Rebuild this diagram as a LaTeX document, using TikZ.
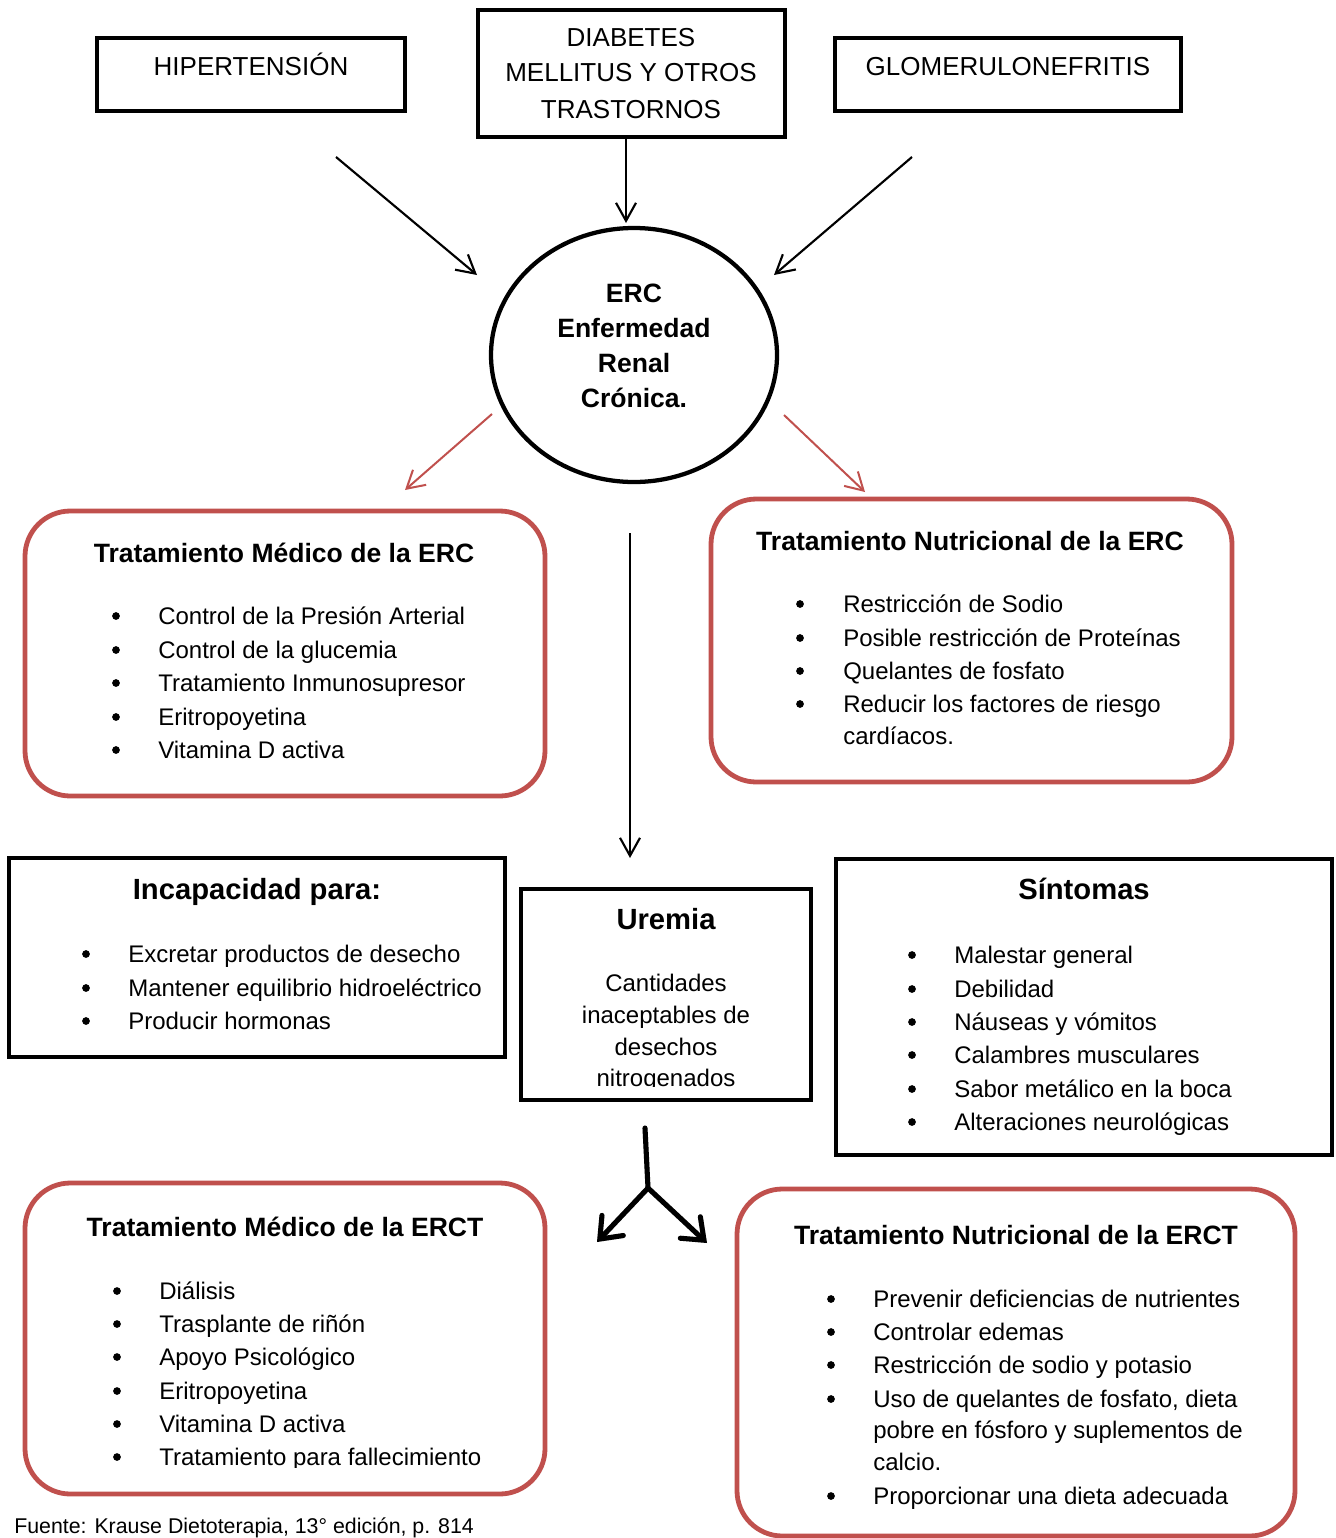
\documentclass[tikz,border=0pt]{standalone}
\usepackage{fontspec}
\setmainfont{Liberation Sans}
\usetikzlibrary{arrows.meta,fit,shapes.geometric}
\definecolor{ercred}{RGB}{192,80,77}
\begin{document}
\begin{tikzpicture}[x=0.75pt,y=-0.75pt,
  blackbox/.style={draw,line width=3pt,inner sep=0pt},
  redbox/.style={draw=ercred,line width=3.6pt,inner sep=0pt,rounded corners=34pt},
  body/.style={font=\fontsize{18}{24}\selectfont,anchor=base west,inner sep=0pt},
  bodyc/.style={font=\fontsize{18}{24}\selectfont,anchor=base,inner sep=0pt},
  bul/.style={circle,fill=black,inner sep=0pt,minimum size=5.8pt},
  head/.style={font=\fontsize{19.9}{24}\selectfont\bfseries,anchor=base,inner sep=0pt},
  bighead/.style={font=\fontsize{21.9}{26}\selectfont\bfseries,anchor=base,inner sep=0pt},
  cause/.style={font=\fontsize{19.5}{24}\selectfont,anchor=base,inner sep=0pt},
  arr/.style={line width=1.6pt,-{Straight Barb[length=13.5pt,width=15pt]}},
  redarr/.style={ercred,line width=1.5pt,-{Straight Barb[length=13pt,width=15pt]}},
  fork/.style={line width=3.8pt,line cap=round,line join=round},
  forkarr/.style={line width=3.8pt,line cap=round,-{Straight Barb[length=14pt,width=22pt,line cap=round]}}
]
\useasboundingbox (0,0) rectangle (1335,1538);
\clip (0,0) rectangle (1335,1538);

% ---- causes ----
\node[blackbox,fit={(97,38) (405,111)}] (hip) {};
\node[cause] (hipT) at (251,75) {HIPERTENSIÓN};
\node[blackbox,fit={(478,10) (785,137)}] (diab) {};
\node[cause] (diabT1) at (631,47) {DIABETES};
\node[cause] (diabT2) at (631,82) {MELLITUS Y OTROS};
\node[cause] (diabT3) at (631,118) {TRASTORNOS};
\node[blackbox,fit={(835,38) (1181,111)}] (glom) {};
\node[cause] (glomT) at (1008,75) {GLOMERULONEFRITIS};

% ---- centre ----
\node[ellipse,draw,line width=3.2pt,minimum width=214.5pt,minimum height=190.5pt,inner sep=0pt] (erc) at (634,355) {};
\node[head] (ercT1) at (634,302.5) {ERC};
\node[head] (ercT2) at (634,337.5) {Enfermedad};
\node[head] (ercT3) at (634,372.5) {Renal};
\node[head] (ercT4) at (634,407.5) {Crónica.};

\coordinate (c1s) at (336,157); \coordinate (c1e) at (477,275);
\coordinate (c2s) at (626,137); \coordinate (c2e) at (626,223);
\coordinate (c3s) at (912,157); \coordinate (c3e) at (774,275);
\draw[arr] (c1s) -- (c1e);
\draw[arr] (c2s) -- (c2e);
\draw[arr] (c3s) -- (c3e);

\coordinate (r1s) at (492,414); \coordinate (r1e) at (405,490);
\coordinate (r2s) at (784,415); \coordinate (r2e) at (865,492);
\draw[redarr] (r1s) -- (r1e);
\draw[redarr] (r2s) -- (r2e);

% ---- Tratamiento Medico ERC ----
\node[redbox,fit={(25,511) (545,796)}] (medERC) {};
\node[head] (medERCt) at (284,562.5) {Tratamiento Médico de la ERC};
\foreach \y/\t [count=\i] in {624/Control de la Presión Arterial,658/Control de la glucemia,691/Tratamiento Inmunosupresor,725/Eritropoyetina,758/Vitamina D activa}{
  \node[bul] (medERCb\i) at (116,\y-8) {};
  \node[body] (medERCi\i) at (158,\y) {\t};
}

% ---- Tratamiento Nutricional ERC ----
\node[redbox,fit={(711,499) (1232,782)}] (nutERC) {};
\node[head] (nutERCt) at (970,550.5) {Tratamiento Nutricional de la ERC};
\foreach \y/\t [count=\i] in {612/Restricción de Sodio,646/Posible restricción de Proteínas,679/Quelantes de fosfato,712/Reducir los factores de riesgo}{
  \node[bul] (nutERCb\i) at (800,\y-8) {};
  \node[body] (nutERCi\i) at (843,\y) {\t};
}
\node[body] (nutERCi5) at (843,744) {cardíacos.};

% ---- long arrow ----
\coordinate (vs) at (630,533); \coordinate (ve) at (630,858);
\draw[arr] (vs) -- (ve);

% ---- Incapacidad ----
\node[blackbox,fit={(9,858) (505,1057)}] (inc) {};
\node[bighead] (incT) at (257,899.5) {Incapacidad para:};
\foreach \y/\t [count=\i] in {962/Excretar productos de desecho,996/Mantener equilibrio hidroeléctrico,1029/Producir hormonas}{
  \node[bul] (incb\i) at (86,\y-8) {};
  \node[body] (inci\i) at (128,\y) {\t};
}

% ---- Uremia ----
\node[blackbox,fit={(521,889) (811,1100)}] (ure) {};
\node[bighead] (ureT) at (666,929.5) {Uremia};
\node[bodyc] (ure1) at (666,991) {Cantidades};
\node[bodyc] (ure2) at (666,1023) {inaceptables de};
\node[bodyc] (ure3) at (666,1055) {desechos};
\begin{scope}
  \clip (530,1060) rectangle (805,1086);
  \node[bodyc] (ure4) at (666,1086) {nitrogenados};
\end{scope}

% ---- Sintomas ----
\node[blackbox,fit={(836,859) (1332,1155)}] (sin) {};
\node[bighead] (sinT) at (1084,899.5) {Síntomas};
\foreach \y/\t [count=\i] in {963/Malestar general,997/Debilidad,1030/Náuseas y vómitos,1063/Calambres musculares,1097/Sabor metálico en la boca,1130/Alteraciones neurológicas}{
  \node[bul] (sinb\i) at (912,\y-8) {};
  \node[body] (sini\i) at (954,\y) {\t};
}

% ---- fork arrow ----
\coordinate (fs) at (645,1128); \coordinate (fm) at (648,1188);
\coordinate (fl) at (597,1242); \coordinate (fr) at (707,1243);
\begin{scope}[black!18,shift={(2,3)}]
  \draw[fork] (fs) -- (fm);
  \draw[forkarr] (fm) -- (fl);
  \draw[forkarr] (fm) -- (fr);
\end{scope}
\draw[fork] (fs) -- (fm);
\draw[forkarr] (fm) -- (fl);
\draw[forkarr] (fm) -- (fr);

% ---- Tratamiento Medico ERCT ----
\node[redbox,fit={(25,1183) (545,1494)}] (medERCT) {};
\node[head] (medERCTt) at (285,1236.5) {Tratamiento Médico de la ERCT};
\foreach \y/\t [count=\i] in {1299/Diálisis,1332/Trasplante de riñón,1365/Apoyo Psicológico,1399/Eritropoyetina,1432/Vitamina D activa}{
  \node[bul] (medERCTb\i) at (117,\y-8) {};
  \node[body] (medERCTi\i) at (159,\y) {\t};
}
\node[bul] (medERCTb6) at (117,1457) {};
\begin{scope}
  \clip (150,1430) rectangle (540,1467);
  \node[body] (medERCTi6) at (159,1465) {Tratamiento para fallecimiento};
\end{scope}

% ---- Tratamiento Nutricional ERCT ----
\node[redbox,fit={(737,1189) (1295,1536)}] (nutERCT) {};
\node[head] (nutERCTt) at (1016,1244.5) {Tratamiento Nutricional de la ERCT};
\foreach \y/\t [count=\i] in {1307/Prevenir deficiencias de nutrientes,1340/Controlar edemas,1373/Restricción de sodio y potasio,1407/{Uso de quelantes de fosfato, dieta}}{
  \node[bul] (nutERCTb\i) at (831,\y-8) {};
  \node[body] (nutERCTi\i) at (873,\y) {\t};
}
\node[body] (nutERCTi5) at (873,1438) {pobre en fósforo y suplementos de};
\node[body] (nutERCTi6) at (873,1470) {calcio.};
\node[bul] (nutERCTb7) at (831,1496) {};
\node[body] (nutERCTi7) at (873,1504) {Proporcionar una dieta adecuada};

% ---- footer ----
\node[font=\fontsize{16}{20}\selectfont,anchor=base west,inner sep=0pt] (src) at (14,1533) {Fuente: Krause Dietoterapia, 13° edición, p. 814};
\end{tikzpicture}
\end{document}
